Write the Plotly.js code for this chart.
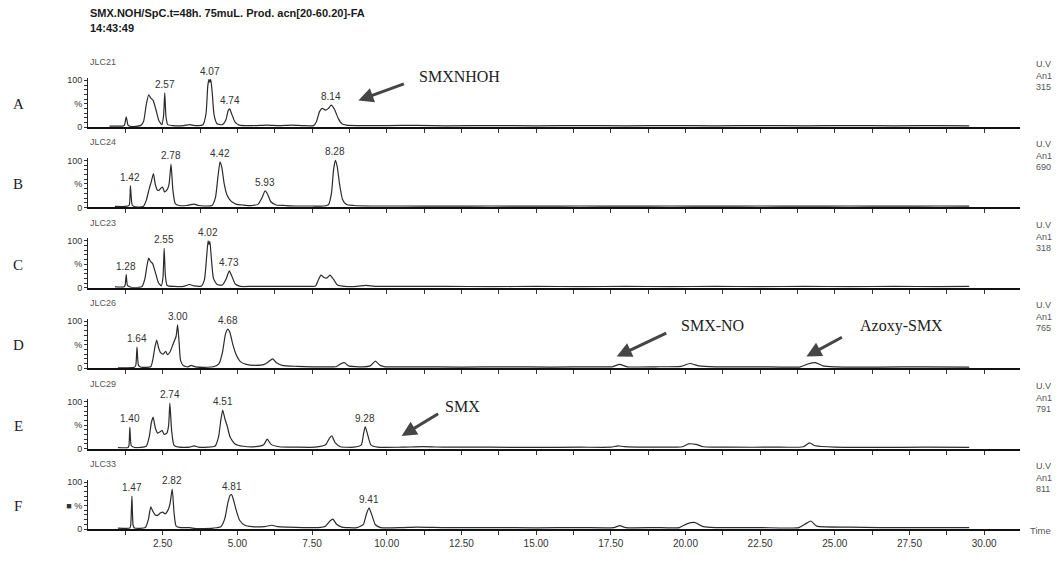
<!DOCTYPE html>
<html><head><meta charset="utf-8">
<script src="https://cdn.plot.ly/plotly-3.0.1.min.js"></script>
<style>html,body{margin:0;padding:0;background:#fff}#chart{width:1064px;height:563px}</style>
</head><body><div id="chart"></div>
<script>
const titleLine1 = 'SMX.NOH/SpC.t=48h. 75muL. Prod. acn[20-60.20]-FA';
const titleLine2 = '14:43:49';
const panelNames = ['JLC21','JLC24','JLC23','JLC26','JLC29','JLC33'];
const panelLetters = ['A','B','C','D','E','F'];
const detectorCodes = ['315','690','318','765','791','811'];
const xTickVals = [1.25,2.5,3.75,5,6.25,7.5,8.75,10,11.25,12.5,13.75,15,16.25,17.5,18.75,20,21.25,22.5,23.75,25,26.25,27.5,28.75,30];
const xTickText = ['','2.50','','5.00','','7.50','','10.00','','12.50','','15.00','','17.50','','20.00','','22.50','','25.00','','27.50','','30.00'];
const yTickVals = [0,10,20,30,40,50,60,70,80,90,100];
const yTickText = ['0','','','','','%','','','','','100'];

// chromatogram traces: [time (min), intensity (%)]
const traceA = [[0.72,2],[1.15,2],[1.22,4],[1.28,22],[1.34,4],[1.45,1],[1.75,3],[1.86,12],[1.95,48],[2.03,69],[2.10,62],[2.18,57],[2.27,38],[2.37,14],[2.47,5],[2.53,25],[2.57,73],[2.61,22],[2.67,5],[2.85,3],[3.20,3],[3.40,5],[3.58,3],[3.85,5],[3.95,28],[4.01,88],[4.05,102],[4.08,96],[4.11,102],[4.16,72],[4.22,26],[4.32,7],[4.50,5],[4.62,16],[4.69,35],[4.74,39],[4.81,28],[4.92,11],[5.06,4],[5.50,3],[6.00,4],[6.40,3],[6.80,4],[7.20,3],[7.55,3],[7.65,12],[7.75,33],[7.84,40],[7.95,36],[8.05,40],[8.14,47],[8.25,38],[8.38,18],[8.50,7],[8.65,4],[9.00,3],[10.0,3],[11.0,3.5],[12.0,2.5],[13.5,3],[15.0,2.5],[16.5,3],[18.0,2.5],[19.5,3],[21.0,2.5],[22.5,3],[24.0,2.5],[25.5,3],[27.0,2.5],[28.5,3],[29.5,2.5]];
const traceB = [[0.9,2],[1.25,2],[1.38,5],[1.42,46],[1.48,5],[1.58,1],[1.85,2],[1.95,15],[2.05,40],[2.12,55],[2.19,72],[2.25,50],[2.31,38],[2.37,36],[2.44,41],[2.50,43],[2.56,33],[2.63,36],[2.71,48],[2.78,92],[2.84,38],[2.92,8],[3.05,4],[3.30,4],[3.55,7],[3.70,4],[3.90,3],[4.15,4],[4.27,22],[4.35,65],[4.42,97],[4.48,85],[4.56,50],[4.65,27],[4.78,14],[4.95,7],[5.20,5],[5.50,4],[5.70,7],[5.82,20],[5.93,35],[6.02,27],[6.12,12],[6.30,5],[6.60,4],[7.00,3],[7.50,3],[7.90,3],[8.05,6],[8.15,30],[8.22,80],[8.28,100],[8.34,88],[8.42,50],[8.52,17],[8.65,6],[8.90,4],[9.50,3],[10.5,3],[12,2.5],[13.5,3],[15,2.5],[16.5,3],[18,2.5],[19.5,3],[21,2.5],[22.5,3],[24,2.5],[25.5,3],[27,2.5],[28.5,3],[29.5,2.5]];
const traceC = [[0.9,2],[1.20,2],[1.24,5],[1.28,28],[1.32,5],[1.45,1],[1.80,2],[1.90,18],[1.97,45],[2.03,63],[2.09,56],[2.16,52],[2.25,34],[2.35,12],[2.45,4],[2.51,22],[2.55,84],[2.59,26],[2.65,5],[2.90,3],[3.20,3],[3.40,7],[3.55,4],[3.80,4],[3.90,18],[3.97,65],[4.02,100],[4.05,92],[4.08,99],[4.13,62],[4.20,20],[4.32,7],[4.50,6],[4.62,18],[4.73,36],[4.82,24],[4.93,8],[5.10,3],[5.50,3],[6.50,3],[7.50,3],[7.62,4],[7.72,18],[7.80,27],[7.90,22],[8.00,21],[8.10,27],[8.22,18],[8.35,6],[8.60,3],[9.00,3],[9.30,5],[9.60,3],[10.5,3],[12,3],[13.5,2.5],[15,3],[16.5,2.5],[18,3],[19.5,2.5],[21,3],[22.5,2.5],[24,3],[25.5,2.5],[27,3],[28.5,2.5],[29.5,3]];
const traceD = [[1.00,1],[1.55,2],[1.60,6],[1.64,45],[1.69,6],[1.78,2],[2.10,3],[2.17,18],[2.24,45],[2.30,60],[2.36,44],[2.43,33],[2.52,30],[2.60,36],[2.66,29],[2.74,34],[2.84,50],[2.95,68],[3.00,92],[3.05,55],[3.10,16],[3.20,5],[3.35,3],[3.45,6],[3.60,3],[4.00,2],[4.20,3],[4.38,9],[4.50,33],[4.60,72],[4.68,83],[4.75,76],[4.85,50],[4.95,30],[5.10,14],[5.30,8],[5.60,6],[5.90,8],[6.05,14],[6.18,20],[6.30,12],[6.50,6],[7.00,4],[7.50,3],[8.00,3],[8.30,3],[8.45,9],[8.58,12],[8.72,5],[9.20,3],[9.45,5],[9.62,15],[9.78,6],[9.95,3],[11,3],[12.5,2.5],[14,3],[15.5,2.5],[17,3],[17.55,3],[17.8,8],[18.05,3],[19,3],[19.85,4],[20.15,10],[20.45,5],[21,3],[22.5,3],[23.85,3],[24.1,9],[24.35,12],[24.6,5],[25,3],[26.5,2.5],[28,3],[29.5,2.5]];
const traceE = [[1.00,2],[1.33,2],[1.37,6],[1.40,45],[1.45,6],[1.58,2],[1.95,5],[2.05,25],[2.12,55],[2.18,67],[2.25,45],[2.33,33],[2.42,36],[2.48,39],[2.55,30],[2.64,33],[2.70,50],[2.74,97],[2.80,38],[2.88,7],[3.05,3],[3.40,3],[3.55,6],[3.70,3],[4.00,3],[4.25,5],[4.37,25],[4.45,62],[4.51,82],[4.58,64],[4.66,48],[4.76,24],[4.92,10],[5.20,5],[5.60,4],[5.88,8],[6.00,20],[6.13,9],[6.40,4],[7.00,3],[7.60,3],[7.95,8],[8.08,22],[8.16,27],[8.28,12],[8.45,4],[8.90,3],[9.15,8],[9.22,30],[9.28,47],[9.36,30],[9.47,8],[9.70,3],[10.5,3],[11.2,4],[12,3],[13.5,3],[15,2.5],[16.5,3],[17.5,3],[17.75,6],[17.95,4],[19,3],[19.9,4],[20.1,10],[20.35,9],[20.6,4],[21.5,3],[23,3],[23.95,4],[24.15,12],[24.35,6],[25,3],[26.5,2.5],[28,3],[29.5,2.5]];
const traceF = [[1.00,2],[1.40,2],[1.43,8],[1.47,70],[1.51,8],[1.56,2],[1.92,3],[2.02,20],[2.10,47],[2.17,38],[2.25,30],[2.33,29],[2.42,34],[2.50,36],[2.58,32],[2.66,38],[2.74,52],[2.82,85],[2.88,35],[2.95,6],[3.10,3],[3.40,3],[3.60,1],[3.90,1],[4.20,2],[4.45,5],[4.58,22],[4.68,55],[4.76,72],[4.81,73],[4.88,60],[4.97,38],[5.08,18],[5.25,8],[5.50,5],[5.90,5],[6.15,8],[6.35,5],[6.70,4],[7.20,3],[7.70,3],[7.95,6],[8.10,17],[8.20,21],[8.32,10],[8.50,4],[9.00,3],[9.22,10],[9.32,32],[9.41,45],[9.50,30],[9.62,9],[9.80,3],[10.5,3],[11,4],[12,3],[13.5,3],[15,2.5],[16.5,3],[17.6,3],[17.8,7],[18.0,3],[19,3],[19.8,3],[20.05,11],[20.3,14],[20.6,5],[21,3],[22.5,3],[23.8,3],[24.05,12],[24.2,17],[24.4,6],[25.5,4],[26.5,3],[28,3],[29.5,3]];

// retention-time labels shown above peaks
const peakLabelsA = ['2.57','4.07','4.74','8.14'];
const peakLabelsB = ['1.42','2.78','4.42','5.93','8.28'];
const peakLabelsC = ['1.28','2.55','4.02','4.73'];
const peakLabelsD = ['1.64','3.00','4.68'];
const peakLabelsE = ['1.40','2.74','4.51','9.28'];
const peakLabelsF = ['1.47','2.82','4.81','9.41'];

// compound call-outs: [text, panel index, arrow-head time, arrow-head %]
const callouts = [['SMXNHOH',0,9.05,57],['SMX-NO',3,17.7,25],['Azoxy-SMX',3,24.05,25],['SMX',4,10.5,27]];

const traces = [traceA,traceB,traceC,traceD,traceE,traceF];
const peakLabels = [peakLabelsA,peakLabelsB,peakLabelsC,peakLabelsD,peakLabelsE,peakLabelsF];

// ---- layout geometry ----
const W=1064,H=563, mL=88, mR=44, mT=78, mB=34;
const plotH = H-mT-mB, plotW = W-mL-mR;
const axisPx = i => 127 + 80.4*i;         // pixel row of each panel's 0-line
const panelPx = 49.35;                     // pixel height of panel domain (0..105)
const toPaper = px => (H-mB-px)/plotH;
const toPaperX = px => (px-mL)/plotW;
const ann = [];
const data = [];
const layout = {
  width:W, height:H, margin:{l:mL,r:mR,t:mT,b:mB},
  paper_bgcolor:'#fff', plot_bgcolor:'rgba(0,0,0,0)', showlegend:false,
  font:{family:'Liberation Sans, Arial, sans-serif', color:'#333', size:9},
  annotations: ann
};

const textPos = [[459,76],[712,325],[901,326],[462,406]];
const arrowOff = [[47,-17],[51,-24],[37,-20],[38,-23]];

traces.forEach((tr,i)=>{
  const n = i===0 ? '' : String(i+1);
  const bottom = toPaper(axisPx(i));
  const top = bottom + panelPx/plotH;
  data.push({
    x: tr.map(p=>p[0]), y: tr.map(p=>p[1]),
    xaxis:'x'+n, yaxis:'y'+n, type:'scatter', mode:'lines',
    line:{color:'#2b2b2b', width:1.2, shape:'spline', smoothing:0.5},
    hoverinfo:'skip'
  });
  const isLast = i===traces.length-1;
  layout['xaxis'+n] = {
    anchor:'y'+n, domain:[0,1], range:[0,31.2], matches: i===0?undefined:'x',
    showline:true, linecolor:'#111', linewidth:2, showgrid:false, zeroline:false,
    ticks:'outside', ticklen:4, tickcolor:'#333', tickwidth:1,
    tickmode:'array', tickvals:xTickVals, ticktext:xTickText,
    showticklabels:isLast, tickfont:{size:10, color:'#333'}
  };
  layout['yaxis'+n] = {
    anchor:'x'+n, domain:[bottom, top], range:[0,105],
    showline:true, linecolor:'#222', linewidth:1, showgrid:false, zeroline:false,
    ticks:'outside', ticklen:3, tickcolor:'#333',
    tickmode:'array', tickvals:yTickVals,
    ticktext: yTickText.map(s => (i===5 && s==='%') ? '\u25A0 %' : s),
    tickfont:{size:9, color:'#333'}
  };
  ann.push({xref:'paper', yref:'paper', x:0, y:toPaper(axisPx(i)-65), xanchor:'left', yanchor:'middle',
    text:panelNames[i], showarrow:false, font:{size:9, color:'#555'}});
  ann.push({xref:'paper', yref:'paper', x:toPaperX(18), y:toPaper(axisPx(i)-23), xanchor:'center', yanchor:'middle',
    text:panelLetters[i], showarrow:false, font:{family:'Liberation Serif, serif', size:15, color:'#222'}});
  ann.push({xref:'paper', yref:'paper', x:toPaperX(1034), y:toPaper(axisPx(i)-70), xanchor:'left', yanchor:'top', align:'left',
    text:'U.V<br>An1<br>'+detectorCodes[i], showarrow:false, font:{size:9, color:'#555'}});
  peakLabels[i].forEach(lbl=>{
    const t = parseFloat(lbl);
    let best = tr[0];
    tr.forEach(p=>{ if(Math.abs(p[0]-t)<0.08 && p[1]>best[1]) best=p; });
    if(Math.abs(best[0]-t)>=0.08) best=[t,50];
    ann.push({xref:'x'+n, yref:'y'+n, x:t, y:Math.min(best[1],100), xanchor:'center', yanchor:'bottom', yshift:1,
      text:lbl, showarrow:false, font:{size:10, color:'#333'}});
  });
});

ann.push({xref:'paper', yref:'paper', x:0, y:toPaper(13), xanchor:'left', yanchor:'middle', text:titleLine1,
  showarrow:false, font:{size:11, color:'#1a1a1a', weight:'bold'}});
ann.push({xref:'paper', yref:'paper', x:0, y:toPaper(28), xanchor:'left', yanchor:'middle', text:titleLine2,
  showarrow:false, font:{size:11, color:'#1a1a1a', weight:'bold'}});
ann.push({xref:'paper', yref:'paper', x:toPaperX(1028), y:toPaper(530), xanchor:'left', yanchor:'middle', text:'Time',
  showarrow:false, font:{size:9.5, color:'#555'}});

callouts.forEach((c,k)=>{
  const n = c[1]===0 ? '' : String(c[1]+1);
  ann.push({xref:'x'+n, yref:'y'+n, x:c[2], y:c[3], text:'', showarrow:true, arrowhead:2, arrowsize:1,
    arrowwidth:3, arrowcolor:'#454545', ax:arrowOff[k][0], ay:arrowOff[k][1], standoff:0});
  ann.push({xref:'paper', yref:'paper', x:toPaperX(textPos[k][0]), y:toPaper(textPos[k][1]), xanchor:'center', yanchor:'middle',
    text:c[0], showarrow:false, font:{family:'Liberation Serif, serif', size:16, color:'#222'}});
});

Plotly.newPlot('chart', data, layout, {staticPlot:true, displayModeBar:false});
</script></body></html>
